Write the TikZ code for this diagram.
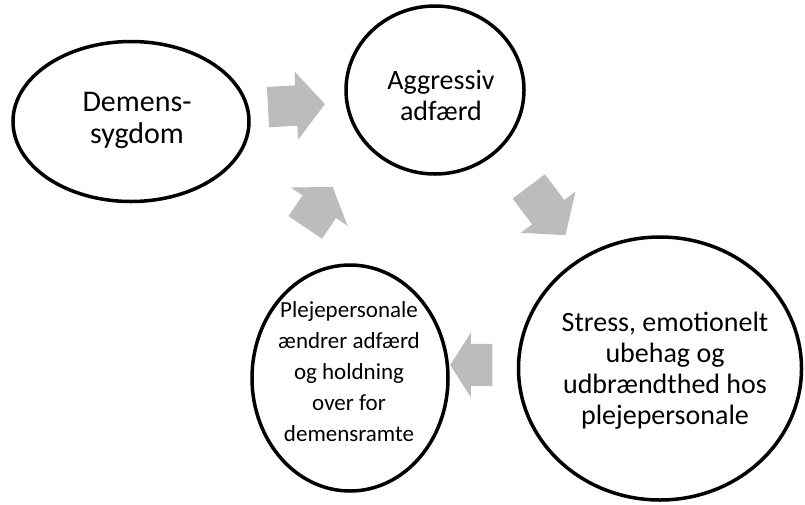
\documentclass[tikz,border=0pt]{standalone}
\usepackage{fontspec}
\setmainfont{Carlito}
\usepackage{tikz}
\usetikzlibrary{shapes.geometric,shapes.arrows}
\definecolor{arrowgray}{RGB}{188,188,188}
\tikzset{
x=1pt, y=-1pt, % one unit per pixel of the sketch, y runs downwards
bubble/.style={ellipse, draw, line width=3.5pt, fill=white, inner sep=0pt}, % the white ovals
txt/.style={align=center, inner sep=0pt, font=\fontsize{28}{31}\selectfont}, % the text inside an oval
flow/.style={single arrow, fill=arrowgray, inner xsep=0pt, inner ysep=20pt, single arrow tip angle=100, single arrow head extend=14pt}, % the grey block arrows
}
\begin{document}
\begin{tikzpicture}
	\useasboundingbox (0,0) rectangle (805,504);
	% grey arrows of the cycle
	\node[flow, minimum height=57pt, rotate=3] (a1) at (288,106) {};
	\node[flow, minimum height=61pt, rotate=-53] (a2) at (542,204) {};
	\node[flow, minimum height=42pt, inner ysep=21pt, single arrow head extend=11pt, single arrow tip angle=115, rotate=180] (a3) at (478,365) {};
	\node[flow, minimum height=49pt, single arrow tip angle=110, rotate=56] (a4) at (315,213) {};
	% the four steps
	\node[bubble, minimum width=236pt, minimum height=160pt] (dem) at (131,121.5) {};
	\node[bubble, minimum width=178pt, minimum height=168pt] (agg) at (435,90) {};
	\node[bubble, minimum width=283pt, minimum height=263pt] (stress) at (660,368.5) {};
	\node[bubble, minimum width=196pt, minimum height=226pt] (pleje) at (350,378) {};
	\node[txt, font=\fontsize{30}{32}\selectfont] (demtxt) at (137,120) {Demens-\\sygdom};
	\node[txt] (aggtxt) at (441,95) {Aggressiv\\adfærd};
	\node[txt] (stresstxt) at (665,371) {Stress, emotionelt\\ubehag og\\udbrændthed hos\\plejepersonale};
	\node[txt, font=\fontsize{23}{31}\selectfont] (plejetxt) at (349,372) {Plejepersonale\\ændrer adfærd\\og holdning\\over for\\demensramte};
\end{tikzpicture}
\end{document}
